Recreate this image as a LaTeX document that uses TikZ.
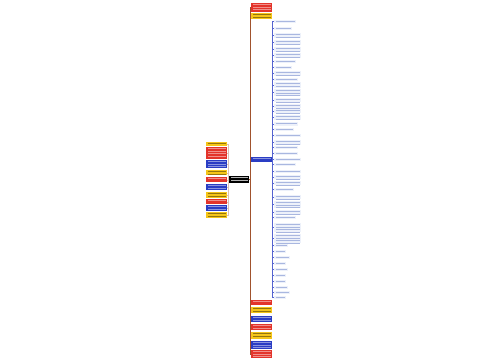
\documentclass[tikz,border=0pt]{standalone}
\usetikzlibrary{calc}
\definecolor{cred}{HTML}{E3342B}
\definecolor{cyel}{HTML}{F5C518}
\definecolor{cblu}{HTML}{2A3DC4}
\definecolor{cleaf}{HTML}{EDF1FA}
\definecolor{cleaft}{HTML}{A9B7E0}
\definecolor{ctrunk}{HTML}{A0522D}
\tikzset{
  box/.style={draw=none, inner sep=0pt, anchor=north west},
  trunk/.style={draw=ctrunk, line width=0.5pt},
  bline/.style={draw=cblu!80, line width=0.6pt},
}
% name, x, y, w, h, fill, text colour, lines
\newcommand\mkbox[8]{%
  \node[box, fill=#6, minimum width=#4pt, minimum height=#5pt] (#1) at (#2,#3) {};
  \foreach \ii in {1,...,#8}{\fill[#7] ($(#1.north west)+(1.5,{1.2+(\ii-1)*2.6})$) rectangle ++({#4-3},0.7);}
}
\begin{document}
\begin{tikzpicture}[x=1pt,y=-1pt]
\useasboundingbox (0,0) rectangle (500,360);
\fill[white] (0,0) rectangle (500,360);
% central node
\mkbox{c}{229}{176}{20}{7}{black}{white!70!black}{2}
% left nodes
\foreach \y/\h/\col/\tc/\n [count=\k] in {
 142/4/cyel/cyel!60!black/1, 147/12/cred/cred!55!white/4, 160/8/cblu/cblu!55!white/3,
 170/5/cyel/cyel!60!black/2, 177/5/cred/cred!55!white/1, 184/6/cblu/cblu!55!white/2,
 192/6/cyel/cyel!60!black/2, 199/5/cred/cred!55!white/1, 205/6/cblu/cblu!55!white/2,
 212/6/cyel/cyel!60!black/2}{
  \mkbox{L\k}{206}{\y}{21}{\h}{\col}{\tc}{\n}
  \draw[draw=ctrunk!35, line width=0.2pt] (c.west) -- ++(-1,0) |- (L\k.east);
}
% right top / bottom nodes
\foreach \y/\h/\col/\tc/\n [count=\k] in {
 3/9/cred/cred!55!white/3, 13/6/cyel/cyel!60!black/2,
 157/5/cblu/cblu!55!white/1,
 300/5/cred/cred!55!white/1, 307/6/cyel/cyel!60!black/2, 316/6/cblu/cblu!55!white/2,
 324/6/cred/cred!55!white/2, 332/7/cyel/cyel!60!black/2, 341/8/cblu/cblu!55!white/3,
 350/8/cred/cred!55!white/3}{
  \mkbox{R\k}{251}{\y}{21}{\h}{\col}{\tc}{\n}
  \draw[trunk] (c.east) -- ++(1,0) |- (R\k.west);
}
% leaves of blue branch
\foreach \y/\h/\w/\n [count=\k] in {
 20/3/22/1, 27/3/18/1, 33/5/27/2, 40/5/27/2, 47/5/27/2, 53/5/27/2, 60/3/22/1,
 66/3/18/1, 71/5/27/2, 78/3/24/1, 82/6/27/2, 89/7/27/3, 98/4/27/2, 104/4/27/2,
 109/4/27/2, 115/5/27/2, 122/4/24/1, 128/3/20/1, 134/3/27/1, 140/5/27/2,
 146/3/24/1, 152/3/24/1, 158/3/27/1, 163/3/22/1, 170/3/27/1, 175/4/27/2,
 181/4/27/2, 188/3/20/1, 195/4/27/2, 201/7/27/3, 210/5/27/2, 216/3/22/1,
 223/9/27/4, 234/9/27/4, 244/3/14/1, 250/3/12/1, 256/3/16/1, 262/3/12/1,
 268/3/14/1, 274/3/12/1, 280/3/12/1, 286/3/14/1, 291/3/16/1, 296/3/12/1}{
  \mkbox{F\k}{274}{\y}{\w}{\h}{cleaf}{cleaft}{\n}
  \draw[bline] (R3.east) -- ++(0,0) |- (F\k.west);
}
\end{tikzpicture}
\end{document}
